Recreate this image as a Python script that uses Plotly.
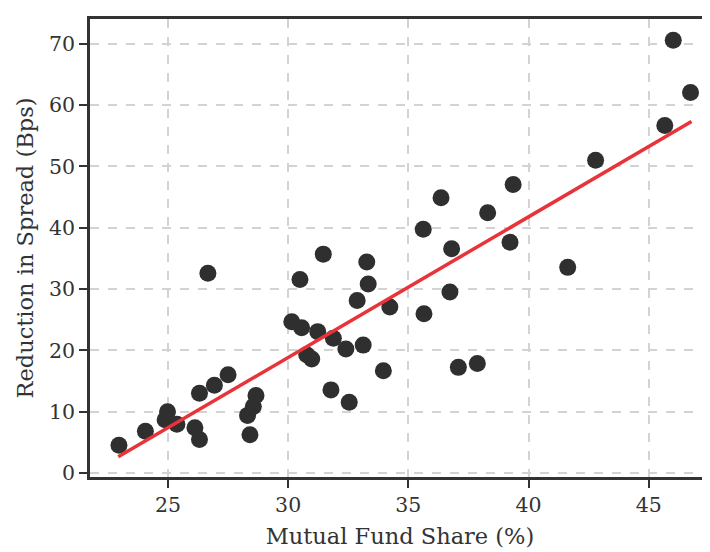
import plotly.graph_objects as go

share = [22.96, 24.06, 24.98, 24.88, 25.37, 26.12, 26.31, 26.31, 26.93, 27.50,
         28.66, 28.55, 28.31, 28.41, 26.66,
         31.46, 33.27, 30.49, 33.33, 32.87, 34.23, 30.15, 30.56, 31.23, 31.88,
         32.40, 33.12, 30.77, 30.98, 33.96, 31.78, 32.54,
         39.36, 36.36, 38.30, 35.62, 39.23, 36.80, 36.73, 35.65, 37.08, 37.87,
         41.63, 42.79, 46.02, 46.74, 45.67]
reduction = [4.54, 6.81, 10.00, 8.67, 7.94, 7.37, 5.46, 13.01, 14.31, 16.01,
             12.64, 10.86, 9.40, 6.24, 32.57,
             35.70, 34.40, 31.55, 30.84, 28.15, 27.06, 24.68, 23.71, 23.06, 21.99,
             20.21, 20.86, 19.28, 18.59, 16.69, 13.56, 11.55,
             47.04, 44.89, 42.46, 39.75, 37.64, 36.57, 29.54, 25.98, 17.23, 17.87,
             33.54, 51.00, 70.60, 62.06, 56.67]
fit_x = [22.93, 46.78]
fit_y = [2.64, 57.32]

x_ticks = [25, 30, 35, 40, 45]
y_ticks = [0, 10, 20, 30, 40, 50, 60, 70]

font_family = "DejaVu Serif, Liberation Serif, serif"

fig = go.Figure()
fig.add_trace(go.Scatter(x=share, y=reduction, mode="markers",
                         marker=dict(size=17, color="#2f2f2f", line=dict(width=0)),
                         showlegend=False))
fig.add_trace(go.Scatter(x=fit_x, y=fit_y, mode="lines",
                         line=dict(color="#e8333a", width=3.5), showlegend=False))

axis_common = dict(
    showgrid=True, gridcolor="#d3d3d3", griddash="dash", gridwidth=1.5,
    showline=True, linecolor="#333333", linewidth=2.5,
    ticks="outside", ticklen=8, tickwidth=2, tickcolor="#333333",
    tickfont=dict(family=font_family, size=20.5, color="#333333"),
    zeroline=False,
)

fig.update_layout(
    width=710, height=552,
    margin=dict(l=82, r=8, t=8, b=83),
    paper_bgcolor="white", plot_bgcolor="white",
    font=dict(family=font_family, color="#333333"),
    xaxis=dict(range=[21.755, 47.55], tickvals=x_ticks, mirror=True,
               title=dict(text="Mutual Fund Share (%)", font=dict(family=font_family, size=22.5, color="#333333"), standoff=12),
               **axis_common),
    yaxis=dict(range=[-0.65, 74.05], tickvals=y_ticks,
               title=dict(text="Reduction in Spread (Bps)", font=dict(family=font_family, size=22.5, color="#333333"), standoff=10),
               **axis_common),
)

fig.write_html("out.html")
